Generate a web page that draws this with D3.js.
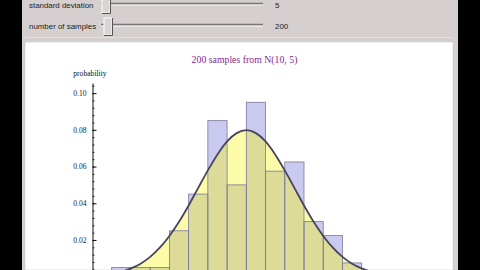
<!DOCTYPE html>
<html>
<head>
<meta charset="utf-8">
<script src="https://cdn.jsdelivr.net/npm/d3@7"></script>
<style>
  html, body { margin: 0; padding: 0; background: #000; overflow: hidden; }
  svg { display: block; }
</style>
</head>
<body>
<div id="chart"></div>
<script>
// histogram: bin start (bin width 2) and probability per unit
const BIN_WIDTH = 2;
const binStarts = [-4, -2, 0, 2, 4, 6, 8, 10, 12, 14, 16, 18, 20];
const binHeights = [0.005, 0.005, 0.005, 0.025, 0.045, 0.085, 0.05, 0.095, 0.0575, 0.0625, 0.03, 0.0225, 0.0075];

// density curve
const curveXs = [-6, -5, -4, -3, -2, -1, 0, 1, 2, 3, 4, 5, 6, 7, 8, 9, 10,
                 11, 12, 13, 14, 15, 16, 17, 18, 19, 20, 21, 22, 23, 24, 25, 26];
const curveYs = [0.0005, 0.0009, 0.0016, 0.0027, 0.0045, 0.0071, 0.0108, 0.0158, 0.0222, 0.0299,
                 0.0388, 0.0484, 0.0579, 0.0666, 0.0737, 0.0782, 0.0798,
                 0.0782, 0.0737, 0.0666, 0.0579, 0.0484, 0.0388, 0.0299, 0.0222, 0.0158,
                 0.0108, 0.0071, 0.0045, 0.0027, 0.0016, 0.0009, 0.0005];

const majorTicks = [0.02, 0.04, 0.06, 0.08, 0.10];
const minorTicks = d3.range(1, 27).map(i => i * 0.004).filter(v => v < 0.105);

const sliders = [
  { label: "standard deviation", value: "5",   y: 4,  thumbX: 102, thumbTop: -3, thumbH: 16 },
  { label: "number of samples",  value: "200", y: 25, thumbX: 104, thumbTop: 18, thumbH: 17 }
];

const TITLE = "200 samples from N(10, 5)";
const Y_LABEL = "probability";

const W = 480, H = 270;

const svg = d3.select("#chart").append("svg")
  .attr("width", W)
  .attr("height", H);

// ------- frame / panels -------
svg.append("rect").attr("width", W).attr("height", H).attr("fill", "#000");
svg.append("rect").attr("x", 22).attr("y", 0).attr("width", 436).attr("height", H).attr("fill", "#d5cfcf");
svg.append("line").attr("x1", 25).attr("x2", 453).attr("y1", 37.5).attr("y2", 37.5)
  .attr("stroke", "#e4e0e0").attr("stroke-width", 1);
svg.append("rect").attr("x", 25).attr("y", 42).attr("width", 428).attr("height", H - 42)
  .attr("fill", "#fff").attr("stroke", "#c8c4c4").attr("stroke-width", 0.5);

// ------- controls -------
const ctrl = svg.append("g").attr("class", "controls");
sliders.forEach(s => {
  ctrl.append("text")
    .attr("x", 29).attr("y", s.y + 3.5)
    .attr("font-family", "Liberation Sans, Arial, sans-serif")
    .attr("font-size", 7.9)
    .attr("fill", "#222")
    .text(s.label);

  // track
  ctrl.append("line").attr("x1", 101).attr("x2", 263).attr("y1", s.y - 0.5).attr("y2", s.y - 0.5)
    .attr("stroke", "#7a7676").attr("stroke-width", 1.5);
  ctrl.append("line").attr("x1", 101).attr("x2", 263).attr("y1", s.y + 1.2).attr("y2", s.y + 1.2)
    .attr("stroke", "#f2f0f0").attr("stroke-width", 1);

  // thumb
  ctrl.append("rect").attr("x", s.thumbX).attr("y", s.thumbTop).attr("width", 8).attr("height", s.thumbH)
    .attr("fill", "#d9d5d5").attr("stroke", "#fbfbfb").attr("stroke-width", 1);
  ctrl.append("path")
    .attr("d", `M${s.thumbX + 8.5},${s.thumbTop} V${s.thumbTop + s.thumbH + 0.5} H${s.thumbX}`)
    .attr("fill", "none").attr("stroke", "#555").attr("stroke-width", 1);

  ctrl.append("text")
    .attr("x", 275).attr("y", s.y + 3.5)
    .attr("font-family", "Liberation Sans, Arial, sans-serif")
    .attr("font-size", 7.9)
    .attr("fill", "#222")
    .text(s.value);
});

// ------- plot -------
const x = d3.scaleLinear().domain([-4, 22]).range([111.7, 361.7]);
const y = d3.scaleLinear().domain([0, 0.1055]).range([276.7, 83]);

const g = svg.append("g");

const curveData = curveXs.map((v, i) => ({ x: v, y: curveYs[i] }));

const area = d3.area()
  .curve(d3.curveMonotoneX)
  .x(d => x(d.x))
  .y0(y(0))
  .y1(d => y(d.y));

const line = d3.line()
  .curve(d3.curveMonotoneX)
  .x(d => x(d.x))
  .y(d => y(d.y));

// clip = region under the curve
svg.append("defs").append("clipPath").attr("id", "under")
  .append("path").attr("d", area(curveData));

g.append("path")
  .attr("d", area(curveData))
  .attr("fill", "#fcfca8");

const bars = binStarts.map((b, i) => ({ x0: b, x1: b + BIN_WIDTH, v: binHeights[i] }));

g.selectAll("rect.bar")
  .data(bars)
  .enter()
  .append("rect")
  .attr("class", "bar")
  .attr("x", d => x(d.x0))
  .attr("width", d => x(d.x1) - x(d.x0))
  .attr("y", d => y(d.v))
  .attr("height", d => y(0) - y(d.v))
  .attr("fill", "#cacaf1");

// overlap of bars and area
g.append("g").attr("clip-path", "url(#under)")
  .selectAll("rect")
  .data(bars)
  .enter()
  .append("rect")
  .attr("x", d => x(d.x0))
  .attr("width", d => x(d.x1) - x(d.x0))
  .attr("y", d => y(d.v))
  .attr("height", d => y(0) - y(d.v))
  .attr("fill", "#dcdc98");

g.selectAll("rect.bar-edge")
  .data(bars)
  .enter()
  .append("rect")
  .attr("class", "bar-edge")
  .attr("x", d => x(d.x0))
  .attr("width", d => x(d.x1) - x(d.x0))
  .attr("y", d => y(d.v))
  .attr("height", d => y(0) - y(d.v))
  .attr("fill", "none")
  .attr("stroke", "#7a7a98")
  .attr("stroke-width", 0.8);

g.append("path")
  .attr("d", line(curveData))
  .attr("fill", "none")
  .attr("stroke", "#47455e")
  .attr("stroke-width", 1.8);

// ------- y axis -------
const axisX = 92.5;

g.append("g")
  .attr("transform", `translate(${axisX},0)`)
  .call(d3.axisLeft(y).tickValues(minorTicks).tickSize(-2).tickSizeOuter(0).tickFormat(""))
  .call(a => a.select(".domain").remove())
  .call(a => a.selectAll("line").attr("stroke", "#333"));

const yAxis = g.append("g")
  .attr("transform", `translate(${axisX},0)`)
  .call(d3.axisLeft(y).tickValues(majorTicks).tickSize(-4).tickSizeOuter(0)
    .tickPadding(6).tickFormat(d3.format(".2f")));

yAxis.select(".domain").attr("stroke", "#111");
yAxis.selectAll("line").attr("stroke", "#111");
yAxis.selectAll("text")
  .attr("font-family", "Liberation Serif, Times New Roman, serif")
  .attr("font-size", 7.6)
  .attr("fill", "#222");

g.append("text")
  .attr("x", 73.3)
  .attr("y", 76)
  .attr("font-family", "Liberation Serif, Times New Roman, serif")
  .attr("font-size", 7.6)
  .attr("fill", "#111")
  .text(Y_LABEL);

g.append("text")
  .attr("x", 244.5)
  .attr("y", 63)
  .attr("text-anchor", "middle")
  .attr("font-family", "Liberation Serif, Times New Roman, serif")
  .attr("font-size", 9.8)
  .attr("fill", "#8a1f8c")
  .text(TITLE);
</script>
</body>
</html>
